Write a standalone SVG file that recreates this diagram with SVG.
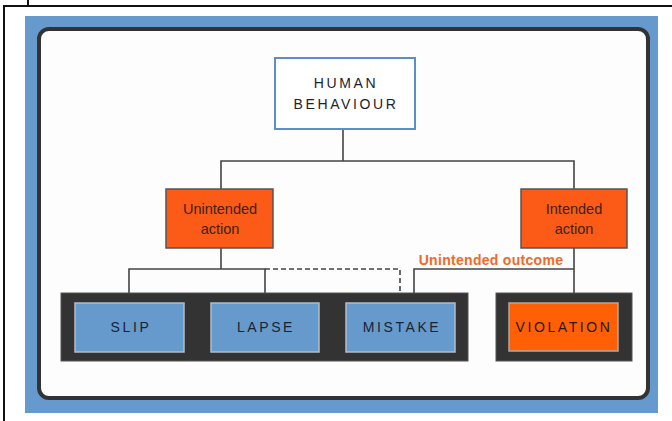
<svg xmlns="http://www.w3.org/2000/svg" width="672" height="421" viewBox="0 0 672 421">
  <style>
    .lbl { font-family: "Liberation Sans", Arial, sans-serif; font-size: 14px; text-anchor: middle; }
    .caps { letter-spacing: 2.6px; fill: #1c2233; }
    .act { fill: #3a2418; font-size: 14.5px; }
    .line { stroke: #444; stroke-width: 1.6; fill: none; }
    .dash { stroke: #444; stroke-width: 1.6; fill: none; stroke-dasharray: 5 3; }
    .blue { fill: #6699cc; stroke: #b4bcc6; stroke-width: 1.5; }
    .orange { fill: #fc5a17; stroke: #555; stroke-width: 1.5; }
    .bar { fill: #333333; stroke: #555; stroke-width: 1; }
  </style>

  <!-- page frame -->
  <rect x="0" y="0" width="672" height="421" fill="#ffffff"/>
  <path d="M28,0 V6 M4,421 V6 H672" stroke="#111" stroke-width="2" fill="none"/>

  <!-- panel -->
  <rect x="25" y="16" width="633" height="397" fill="#6699cc"/>
  <rect x="39" y="29" width="609" height="369" rx="10" fill="#fdfdfd" stroke="#333" stroke-width="4"/>

  <!-- connectors -->
  <g id="connectors">
    <path class="line" d="M343,129 V161 M221,189 V161 H574 V189"/>
    <path class="line" d="M221,248 V269 M129,293 V269 H265 V293"/>
    <path class="dash" d="M265,269 H400 V293"/>
    <path class="line" d="M574,248 V293 M414,293 V269 H574"/>
  </g>

  <text id="outcome-label" x="491" y="265" class="lbl" style="font-weight:bold; fill:#f0692a; letter-spacing:0.3px">Unintended outcome</text>

  <g id="human-behaviour">
    <rect x="275" y="58" width="140" height="71" fill="#ffffff" stroke="#5b8fc7" stroke-width="2"/>
    <text x="346" y="88" class="lbl caps">HUMAN</text>
    <text x="346" y="109" class="lbl caps">BEHAVIOUR</text>
  </g>

  <g id="unintended-action">
    <rect x="166" y="189" width="107" height="59" class="orange"/>
    <text x="220" y="214" class="lbl act">Unintended</text>
    <text x="220" y="234" class="lbl act">action</text>
  </g>

  <g id="intended-action">
    <rect x="521" y="189" width="106" height="59" class="orange"/>
    <text x="574" y="214" class="lbl act">Intended</text>
    <text x="574" y="234" class="lbl act">action</text>
  </g>

  <g id="errors-group">
    <rect x="61" y="293" width="407" height="68" class="bar"/>
  </g>

  <g id="slip">
    <rect x="75" y="303" width="109" height="49" class="blue"/>
    <text x="131" y="332" class="lbl caps">SLIP</text>
  </g>

  <g id="lapse">
    <rect x="211" y="303" width="108" height="49" class="blue"/>
    <text x="266" y="332" class="lbl caps">LAPSE</text>
  </g>

  <g id="mistake">
    <rect x="346" y="303" width="109" height="49" class="blue"/>
    <text x="402" y="332" class="lbl caps">MISTAKE</text>
  </g>

  <g id="violation-group">
    <rect x="496" y="293" width="136" height="68" class="bar"/>
  </g>

  <g id="violation">
    <rect x="509" y="303" width="109" height="48" fill="#ff5f05" stroke="#b4a8a0" stroke-width="1.5"/>
    <text x="564" y="332" class="lbl caps" style="fill:#2a1a12">VIOLATION</text>
  </g>
</svg>
